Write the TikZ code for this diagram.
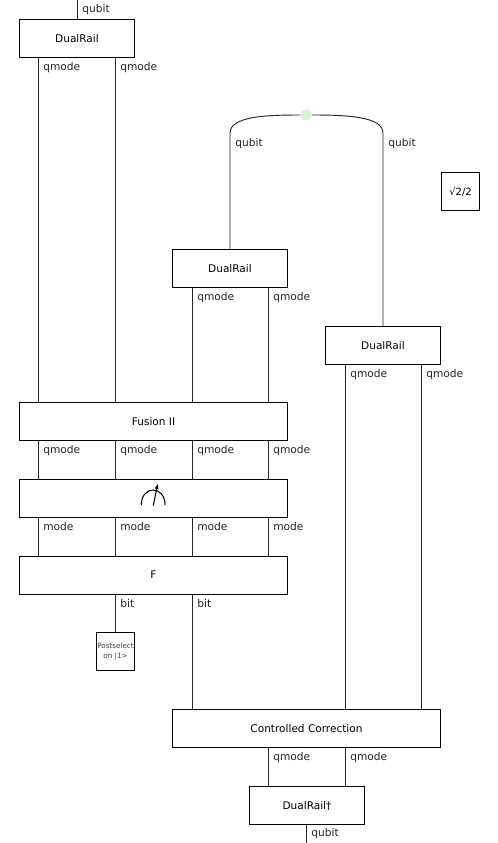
\documentclass[tikz,border=0pt]{standalone}
\usepackage{fontspec}
\usetikzlibrary{arrows.meta}
\setmainfont{DejaVu Sans}
\definecolor{spidergreen}{HTML}{D6F5D6}
\begin{document}
\begin{tikzpicture}[x=0.75pt,y=-0.75pt,
  box/.style={draw=black,line width=0.75pt,fill=white,inner sep=0pt,font=\fontsize{7.9}{9}\selectfont,anchor=north west},
  wire/.style={draw=black!85,line width=0.7pt},
  lab/.style={anchor=west,inner sep=0pt,font=\fontsize{8}{9}\selectfont,text=black!85},
  spiderdot/.style={circle,fill=spidergreen,inner sep=0pt,minimum size=8.5pt}]
\useasboundingbox (0,0) rectangle (498,843);
\fill[white] (0,0) rectangle (498,843);
% x positions of the wires
\foreach \n/\v in {a/38,b/115,c/192,d/268,e/345,f/421,g/77,h/306,i/230,j/383}
  \coordinate (x\n) at (\v,0);
\coordinate (topin) at (77,0);
\coordinate (botout) at (306,843);
% wires drawn first, so that the green dot sits on top
\coordinate (bl) at (230,133);
\coordinate (br) at (383,133);
% boxes
\node[box,minimum width=86.25pt,minimum height=28.5pt] (dr1) at (19,19) {DualRail};
\node[box,minimum width=86.25pt,minimum height=28.5pt] (dr2) at (172,249) {DualRail};
\node[box,minimum width=86.25pt,minimum height=28.5pt] (dr3) at (325,326) {DualRail};
\node[box,minimum width=28.5pt,minimum height=28.5pt,font=\fontsize{7.5}{9}\selectfont] (scal) at (441,172) {√2/2};
\node[box,minimum width=201pt,minimum height=28.5pt] (fus) at (19,402) {Fusion II};
\node[box,minimum width=201pt,minimum height=28.5pt] (meas) at (19,479) {};
\node[box,minimum width=201pt,minimum height=28.5pt] (ff) at (19,556) {\raisebox{1pt}{F}};
\node[box,minimum width=28.5pt,minimum height=28.5pt,align=center,font=\fontsize{5.4}{7.5}\selectfont,text=black!75] (post) at (96,632) {Postselect\\on |1>};
\node[box,minimum width=201pt,minimum height=28.5pt] (cc) at (172,709) {Controlled Correction};
\node[box,minimum width=86.25pt,minimum height=28.5pt] (drd) at (249,786) {DualRail†};
\node[spiderdot] (sp) at (306,115) {};
% measurement symbol
\draw[line width=0.8pt] (141.3,505) .. controls (141.3,485) and (165,485) .. (165,505);
\draw[line width=0.8pt,-{Latex[length=4pt,width=3pt]}] (153.3,505.7) -- (157.7,483.5);
% wires
\draw[wire] (topin) -- (dr1.north -| xg);
\draw[wire] (dr1.south -| xa) -- (fus.north -| xa);
\draw[wire] (dr1.south -| xb) -- (fus.north -| xb);
\draw[wire] (dr2.south -| xc) -- (fus.north -| xc);
\draw[wire] (dr2.south -| xd) -- (fus.north -| xd);
\draw[wire] (fus.south -| xa) -- (meas.north -| xa);
\draw[wire] (fus.south -| xb) -- (meas.north -| xb);
\draw[wire] (fus.south -| xc) -- (meas.north -| xc);
\draw[wire] (fus.south -| xd) -- (meas.north -| xd);
\draw[wire] (meas.south -| xa) -- (ff.north -| xa);
\draw[wire] (meas.south -| xb) -- (ff.north -| xb);
\draw[wire] (meas.south -| xc) -- (ff.north -| xc);
\draw[wire] (meas.south -| xd) -- (ff.north -| xd);
\draw[wire] (ff.south -| xb) -- (post.north -| xb);
\draw[wire] (ff.south -| xc) -- (cc.north -| xc);
\draw[wire] (dr3.south -| xe) -- (cc.north -| xe);
\draw[wire] (dr3.south -| xf) -- (cc.north -| xf);
\draw[wire] (cc.south -| xd) -- (drd.north -| xd);
\draw[wire] (cc.south -| xe) -- (drd.north -| xe);
\draw[wire] (drd.south -| xh) -- (botout);
\draw[wire] (dr2.north -| xi) -- (bl) .. controls (230,116) and (268,115) .. (sp.west);
\draw[wire] (dr3.north -| xj) -- (br) .. controls (383,116) and (344,115) .. (sp.east);
% labels
\node[lab] (l1) at (82,10) {qubit};
\node[lab] (l2) at (43,68) {qmode};
\node[lab] (l3) at (120,68) {qmode};
\node[lab] (l4) at (235,144) {qubit};
\node[lab] (l5) at (388,144) {qubit};
\node[lab] (l6) at (197,298) {qmode};
\node[lab] (l7) at (273,298) {qmode};
\node[lab] (l8) at (350,375) {qmode};
\node[lab] (l9) at (426,375) {qmode};
\node[lab] (l10) at (43,451) {qmode};
\node[lab] (l11) at (120,451) {qmode};
\node[lab] (l12) at (197,451) {qmode};
\node[lab] (l13) at (273,451) {qmode};
\node[lab] (l14) at (43,527) {mode};
\node[lab] (l15) at (120,527) {mode};
\node[lab] (l16) at (197,527) {mode};
\node[lab] (l17) at (273,527) {mode};
\node[lab] (l18) at (120,604) {bit};
\node[lab] (l19) at (197,604) {bit};
\node[lab] (l20) at (273,758) {qmode};
\node[lab] (l21) at (350,758) {qmode};
\node[lab] (l22) at (311,834) {qubit};
\end{tikzpicture}
\end{document}
